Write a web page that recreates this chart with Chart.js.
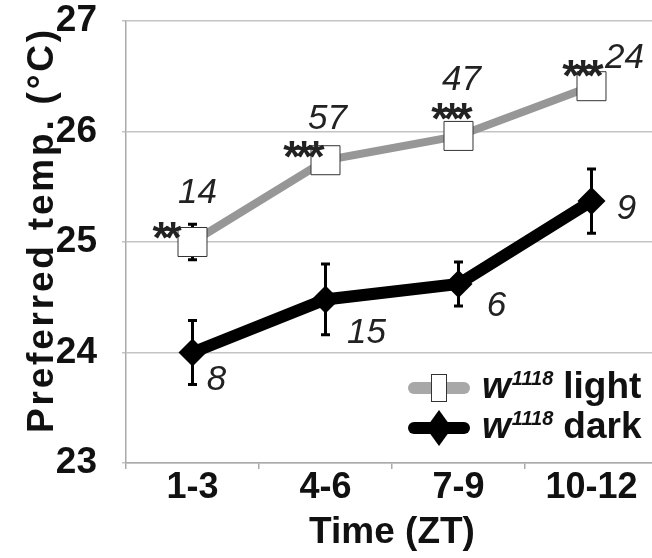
<!DOCTYPE html>
<html>
<head>
<meta charset="utf-8">
<script src="https://cdn.jsdelivr.net/npm/chart.js@4"></script>
<style>
html, body { margin: 0; padding: 0; overflow: hidden; background: #fff; }
#wrap { width: 660px; height: 558px; }
</style>
</head>
<body>
<div id="wrap"><canvas id="myChart" width="660" height="558"></canvas></div>
<script>
// data
var categories = ['1-3', '4-6', '7-9', '10-12'];
var yTicks = [23, 24, 25, 26, 27];
var lightMean = [25.0, 25.74, 25.96, 26.41];
var lightErr = [0.16, 0.08, 0.07, 0.06];
var darkMean = [24.0, 24.48, 24.62, 25.37];
var darkErr = [0.29, 0.32, 0.2, 0.29];
var lightN = ['14', '57', '47', '24'];
var darkN = ['8', '15', '6', '9'];
var lightStars = ['**', '***', '***', '***'];
var seriesNames = ['light', 'dark'];

// where the annotations sit, relative to each point (px)
var lightNumOff = [[5, -52], [2, -44], [3, -59], [33, -31]];
var darkNumOff = [[24, 25], [41, 31], [38, 19], [35, 5]];
var starOff = [[-30, -14], [-26, -13], [-11, -27], [-13, -20]];

var FONT = '"Liberation Sans", Arial, Helvetica, sans-serif';

function centerText(ctx, txt, x, y, size) {
	// put the cap height centre of txt on y
	ctx.fillText(txt, x, y + size * 0.36);
}

var errorBars = {
	id: 'errorBars',
	beforeDatasetsDraw: function(chart) {
		var ctx = chart.ctx;
		var ys = chart.scales.y;
		var sets = [[lightMean, lightErr], [darkMean, darkErr]];
		ctx.save();
		ctx.strokeStyle = '#000';
		ctx.lineWidth = 3;
		for (var d = 0; d < sets.length; d++) {
			var meta = chart.getDatasetMeta(d);
			for (var i = 0; i < meta.data.length; i++) {
				var x = meta.data[i].x;
				var top = ys.getPixelForValue(sets[d][0][i] + sets[d][1][i]);
				var bot = ys.getPixelForValue(sets[d][0][i] - sets[d][1][i]);
				ctx.beginPath();
				ctx.moveTo(x, top); ctx.lineTo(x, bot);
				ctx.moveTo(x - 4.5, top); ctx.lineTo(x + 4.5, top);
				ctx.moveTo(x - 4.5, bot); ctx.lineTo(x + 4.5, bot);
				ctx.stroke();
			}
		}
		ctx.restore();
	}
};

var extras = {
	id: 'extras',
	afterDraw: function(chart) {
		var ctx = chart.ctx;
		var area = chart.chartArea;
		var light = chart.getDatasetMeta(0).data;
		var dark = chart.getDatasetMeta(1).data;
		ctx.save();
		ctx.fillStyle = '#222';
		ctx.textAlign = 'center';
		ctx.textBaseline = 'alphabetic';

		// sample sizes
		ctx.font = 'italic 35px ' + FONT;
		for (var i = 0; i < light.length; i++) {
			centerText(ctx, lightN[i], light[i].x + lightNumOff[i][0], light[i].y + lightNumOff[i][1], 35);
			centerText(ctx, darkN[i], dark[i].x + darkNumOff[i][0], dark[i].y + darkNumOff[i][1], 35);
		}

		// significance stars
		ctx.font = 'bold 44px ' + FONT;
		ctx.letterSpacing = '-5px';
		for (var i = 0; i < light.length; i++) {
			ctx.fillText(lightStars[i], light[i].x + starOff[i][0] + 2, light[i].y + starOff[i][1] + 44 * 0.57);
		}
		ctx.letterSpacing = '0px';

		// y axis title
		ctx.save();
		ctx.translate(53, 230);
		ctx.rotate(-Math.PI / 2);
		ctx.fillStyle = '#111';
		ctx.font = 'bold 37px ' + FONT;
		ctx.letterSpacing = '2.8px';
		ctx.fillText('Preferred temp. (\u00B0C)', 0, 0);
		ctx.restore();

		// legend
		var rows = [
			{ y: area.bottom - 75, line: '#a8a8a8', name: seriesNames[0] },
			{ y: area.bottom - 35, line: '#000', name: seriesNames[1] }
		];
		var lx = area.right - 219;
		for (var r = 0; r < rows.length; r++) {
			var y = rows[r].y;
			ctx.lineCap = 'round';
			ctx.strokeStyle = rows[r].line;
			ctx.lineWidth = 12;
			ctx.beginPath();
			ctx.moveTo(lx - 25, y); ctx.lineTo(lx + 25, y);
			ctx.stroke();
			if (r == 0) {
				ctx.fillStyle = '#fff';
				ctx.fillRect(lx - 7.5, y - 13.5, 15, 27);
				ctx.strokeStyle = '#333';
				ctx.lineWidth = 1;
				ctx.strokeRect(lx - 7.5, y - 13.5, 15, 27);
			} else {
				ctx.fillStyle = '#000';
				ctx.beginPath();
				ctx.moveTo(lx, y - 18); ctx.lineTo(lx + 13, y); ctx.lineTo(lx, y + 18); ctx.lineTo(lx - 13, y);
				ctx.closePath();
				ctx.fill();
			}
			ctx.fillStyle = '#111';
			ctx.textAlign = 'left';
			var tx = lx + 43;
			var base = y + 10;
			ctx.font = 'italic bold 37px ' + FONT;
			ctx.fillText('w', tx, base);
			tx += ctx.measureText('w').width + 1;
			ctx.font = 'italic bold 20px ' + FONT;
			ctx.fillText('1118', tx, base - 13);
			tx += ctx.measureText('1118').width + 10;
			ctx.font = 'bold 37px ' + FONT;
			ctx.fillText(rows[r].name, tx, base);
		}
		ctx.restore();
	}
};

var ctx = document.getElementById('myChart').getContext('2d');
var myChart = new Chart(ctx, {
	type: 'line',
	data: {
		labels: categories,
		datasets: [
			{
				label: 'w1118 light',
				data: lightMean,
				borderColor: '#979797',
				borderWidth: 8,
				pointStyle: 'rect',
				pointRadius: 20.5,
				pointBackgroundColor: '#fff',
				pointBorderColor: '#333',
				pointBorderWidth: 1,
				tension: 0,
				clip: false
			},
			{
				label: 'w1118 dark',
				data: darkMean,
				borderColor: '#000',
				borderWidth: 12,
				pointStyle: 'rectRot',
				pointRadius: 14,
				pointBackgroundColor: '#000',
				pointBorderColor: '#000',
				pointBorderWidth: 0,
				tension: 0,
				clip: false
			}
		]
	},
	options: {
		responsive: false,
		animation: false,
		events: [],
		layout: { autoPadding: false, padding: { top: 21, right: 2, left: 0, bottom: 0 } },
		plugins: {
			legend: { display: false },
			tooltip: { enabled: false }
		},
		scales: {
			x: {
				offset: true,
				grid: { drawOnChartArea: false, offset: true, tickLength: 6, color: '#aaa', lineWidth: 1.5 },
				border: { color: '#aaa', width: 1.5 },
				ticks: { color: '#111', padding: 1, font: { family: FONT, size: 36, weight: 'bold', lineHeight: 1 } },
				title: {
					display: true,
					text: 'Time (ZT)',
					color: '#111',
					padding: { top: 0, bottom: 3 },
					font: { family: FONT, size: 37, weight: 'bold' }
				},
				afterFit: function(s) { s.height = 95; s.paddingLeft = 0; s.paddingRight = 0; }
			},
			y: {
				min: yTicks[0],
				max: yTicks[yTicks.length - 1],
				grid: { color: '#c4c4c4', lineWidth: 1.5, tickLength: 4 },
				border: { color: '#aaa', width: 1.5 },
				ticks: {
					stepSize: 1,
					padding: 25,
					color: '#111',
					font: { family: FONT, size: 37, weight: 'bold' },
					callback: function(v) { return yTicks.indexOf(v) >= 0 ? String(v) : ''; }
				},
				afterFit: function(s) { s.width = 126; s.paddingTop = 0; s.paddingBottom = 0; }
			}
		}
	},
	plugins: [errorBars, extras]
});
</script>
</body>
</html>
